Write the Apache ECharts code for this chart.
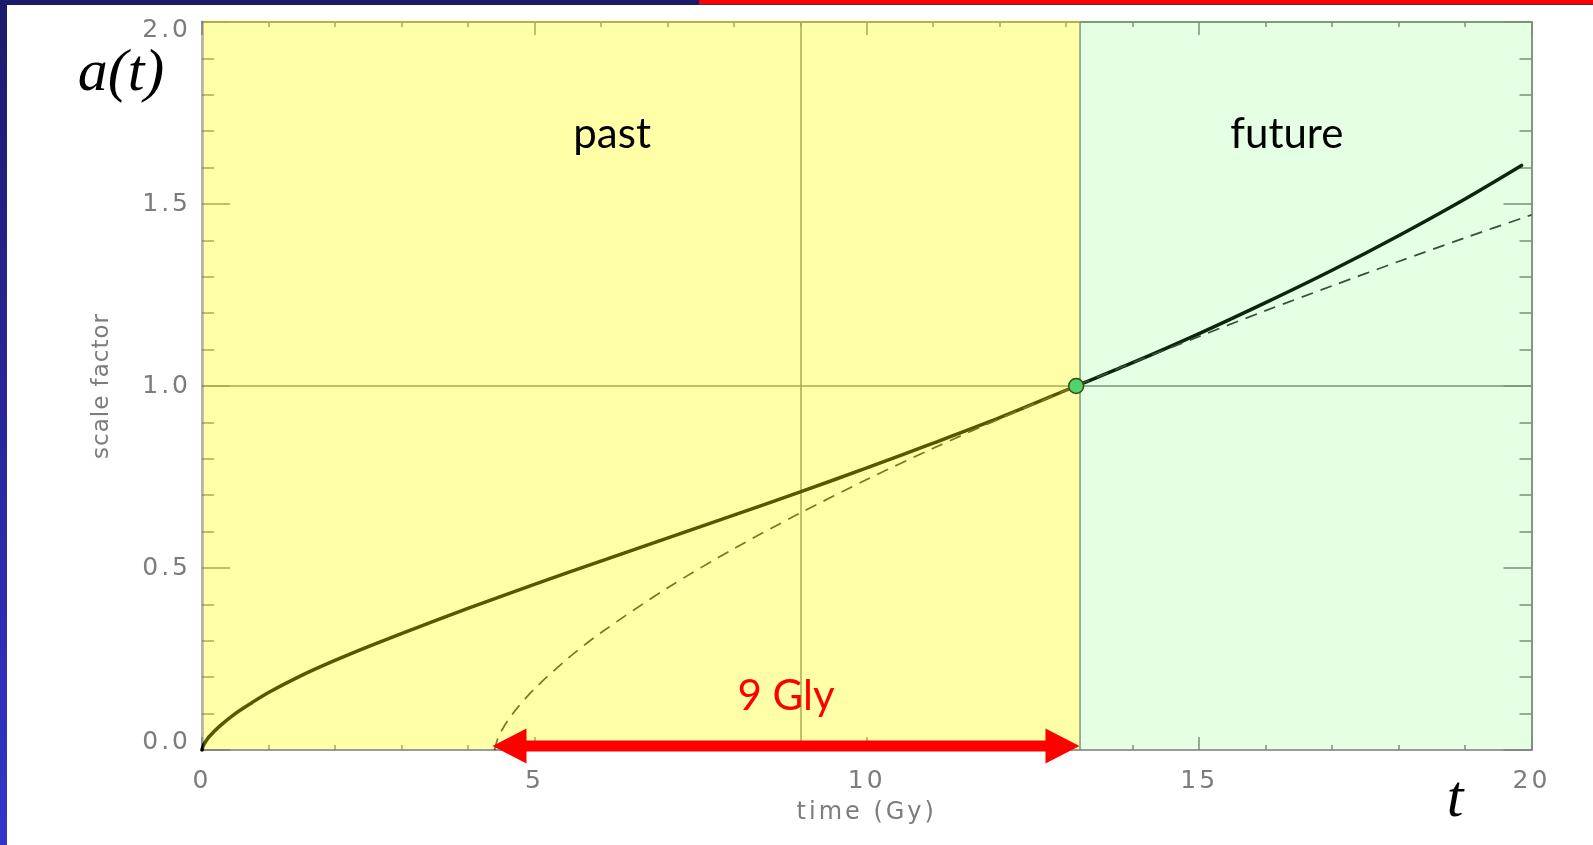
<!DOCTYPE html>
<html>
<head>
<meta charset="utf-8">
<script src="https://cdn.jsdelivr.net/npm/echarts@6/dist/echarts.min.js"></script>
<style>
  html, body { margin: 0; padding: 0; background: #ffffff; }
  #chart { width: 1593px; height: 845px; }
</style>
</head>
<body>
<div id="chart"></div>
<script>
// Scale factor a(t) of an accelerating (ΛCDM) universe, compared with a
// matter-only universe that has the same expansion rate today.

// Axis ticks
const timeTicks = [0, 5, 10, 15, 20];
const scaleTicks = [0.0, 0.5, 1.0, 1.5, 2.0];

// ΛCDM scale factor (solid curve)
const lcdmTime  = [0, 0.02, 0.05, 0.1, 0.25, 0.5, 0.75, 1, 1.5, 2, 2.5, 3, 4, 5, 6, 7, 8, 9, 10, 11, 12, 13.15, 14, 15, 16, 17, 18, 19, 19.85];
const lcdmScale = [0, 0.012, 0.022, 0.035, 0.063, 0.100, 0.130, 0.158, 0.205, 0.246, 0.284, 0.320, 0.389, 0.455, 0.519, 0.582, 0.645, 0.709, 0.775, 0.843, 0.913, 1.000, 1.064, 1.144, 1.229, 1.318, 1.413, 1.514, 1.606];

// Matter-only scale factor (dashed curve)
const matterTime  = [4.4, 4.45, 4.5, 4.6, 4.75, 5, 5.5, 6, 7, 8, 9, 10, 11, 12, 13.15, 14, 15, 16, 17, 18, 19, 20];
const matterScale = [0, 0.032, 0.051, 0.081, 0.117, 0.168, 0.251, 0.322, 0.445, 0.553, 0.651, 0.743, 0.829, 0.910, 1.000, 1.064, 1.136, 1.207, 1.275, 1.342, 1.407, 1.470];

// Today
const presentTime = 13.15;
const presentScale = 1.0;

// Past / future boundary
const eraBounds = [0, 13.2, 20];
const eraLabels = ['past', 'future'];

// Age of the matter-only universe (arrow)
const spanStart = 4.37;
const spanEnd = 13.2;

// Reference lines
const refTime = 9;
const refScale = 1.0;

const zip = (xs, ys) => xs.map((x, i) => [x, ys[i]]);
const tMin = timeTicks[0], tMax = timeTicks[timeTicks.length - 1], tStep = timeTicks[1] - timeTicks[0];
const aMin = scaleTicks[0], aMax = scaleTicks[scaleTicks.length - 1], aStep = scaleTicks[1] - scaleTicks[0];

// The plotter-style axis lettering is widely spaced: give DejaVu text
// some tracking when it is painted.
(function () {
  const proto = CanvasRenderingContext2D.prototype;
  if (!('letterSpacing' in proto)) return;
  const fill = proto.fillText;
  proto.fillText = function (text) {
    if (this.font.indexOf('DejaVu') >= 0) {
      this.letterSpacing = text === 'scale factor' ? '1px' : '3px';
    } else {
      this.letterSpacing = '0px';
    }
    return fill.apply(this, arguments);
  };
})();

const tickFont = 'DejaVu Sans';
const tickColor = '#7c7c7c';
const markGray = '#808080';
const eraFills = ['rgba(255,255,0,0.34)', 'rgba(75,255,75,0.15)'];

function timeAxis(pos) {
  const bottom = pos === 'bottom';
  return {
    type: 'value', position: pos, min: tMin, max: tMax, interval: tStep,
    axisLine: { show: true, onZero: false, lineStyle: { color: bottom ? '#9a9a9a' : '#8a8a8a', width: 2 } },
    axisTick: { show: true, inside: true, length: 13, lineStyle: { color: markGray, width: 1.5 } },
    minorTick: { show: true, splitNumber: 5, length: 5, lineStyle: { color: markGray, width: 1.5 } },
    splitLine: { show: false }, minorSplitLine: { show: false },
    axisLabel: {
      show: bottom, margin: 19, fontFamily: tickFont, fontSize: 25, color: tickColor,
      formatter: v => String(v)
    },
    name: bottom ? 'time (Gy)' : '', nameLocation: 'middle', nameGap: 51,
    nameTextStyle: { fontFamily: tickFont, fontSize: 24, color: tickColor }
  };
}

function scaleAxis(pos) {
  const left = pos === 'left';
  return {
    type: 'value', position: pos, min: aMin, max: aMax, interval: aStep,
    axisLine: { show: true, onZero: false, lineStyle: { color: left ? '#b4b4b4' : '#8a8a8a', width: left ? 3 : 2 } },
    axisTick: { show: true, inside: true, length: 28, lineStyle: { color: markGray, width: 1.5 } },
    minorTick: { show: true, splitNumber: 5, length: 12, lineStyle: { color: markGray, width: 1.5 } },
    splitLine: { show: false }, minorSplitLine: { show: false },
    axisLabel: {
      show: left, margin: 11, fontFamily: tickFont, fontSize: 25, color: tickColor, lineHeight: 16,
      verticalAlignMinLabel: 'bottom', verticalAlignMaxLabel: 'top',
      formatter: v => v.toFixed(1)
    },
    name: left ? 'scale factor' : '', nameLocation: 'middle', nameGap: 88, nameRotate: 90,
    nameTextStyle: { fontFamily: tickFont, fontSize: 23, color: tickColor }
  };
}

const chart = echarts.init(document.getElementById('chart'), null, { renderer: 'canvas' });

const option = {
  animation: false,
  backgroundColor: '#ffffff',
  grid: { left: 202, right: 61.5, top: 22, bottom: 95, containLabel: false },
  xAxis: [timeAxis('bottom'), timeAxis('top')],
  yAxis: [scaleAxis('left'), scaleAxis('right')],
  graphic: [
    { type: 'rect', shape: { x: 0, y: 0, width: 699, height: 5 }, style: { fill: '#1b1b6b' }, z: 100 },
    { type: 'rect', shape: { x: 699, y: 0, width: 894, height: 4 }, style: { fill: '#ff0000' }, z: 100 },
    { type: 'rect', shape: { x: 699, y: 4, width: 894, height: 1 }, style: { fill: '#70146a' }, z: 100 },
    {
      type: 'rect', shape: { x: 0, y: 0, width: 7, height: 845 }, z: 100,
      style: { fill: new echarts.graphic.LinearGradient(0, 0, 0, 1, [
        { offset: 0, color: '#1b1b6b' }, { offset: 1, color: '#3434cc' }
      ]) }
    },
    {
      type: 'text', x: 121, y: 74, z: 100,
      style: {
        text: 'a(t)', fontFamily: 'Liberation Serif', fontStyle: 'italic', fontSize: 60,
        fill: '#000000', align: 'center', verticalAlign: 'middle'
      }
    },
    {
      type: 'text', x: 1455, y: 800, z: 100,
      style: {
        text: 't', fontFamily: 'Liberation Serif', fontStyle: 'italic', fontSize: 60,
        fill: '#000000', align: 'center', verticalAlign: 'middle'
      }
    }
  ],
  series: [
    {
      name: 'ΛCDM', type: 'line', xAxisIndex: 0, yAxisIndex: 0, z: 2, silent: true,
      data: zip(lcdmTime, lcdmScale),
      showSymbol: false, smooth: 0.3,
      lineStyle: { color: '#000000', width: 3.5, cap: 'round' },
      markLine: {
        z: 1, silent: true, symbol: 'none', label: { show: false },
        lineStyle: { color: markGray, width: 1.5, type: 'solid' },
        emphasis: { disabled: true },
        data: [{ xAxis: refTime }, { yAxis: refScale }, { xAxis: eraBounds[1] }]
      }
    },
    {
      name: 'matter only', type: 'line', xAxisIndex: 0, yAxisIndex: 0, z: 2, silent: true,
      data: zip(matterTime, matterScale),
      showSymbol: false, smooth: 0.3,
      lineStyle: { color: '#333333', width: 1.7, type: [12, 8] }
    },
    {
      // translucent past / future shading laid over the plot
      name: 'eras', type: 'custom', xAxisIndex: 0, yAxisIndex: 0, z: 3, silent: true,
      data: eraBounds.slice(0, -1).map((b, i) => [b, eraBounds[i + 1]]),
      encode: { x: [0, 1] },
      renderItem: (params, api) => {
        const i = params.dataIndex;
        const p0 = api.coord([api.value(0), aMax]);
        const p1 = api.coord([api.value(1), aMin]);
        const x0 = p0[0] + (i === 0 ? 1.5 : 0);
        const x1 = p1[0] + (i === eraFills.length - 1 ? 1.5 : 0);
        const y0 = p0[1] - 1.5;
        const y1 = p1[1] - 1;
        return { type: 'rect', shape: { x: x0, y: y0, width: x1 - x0, height: y1 - y0 }, style: { fill: eraFills[i] } };
      }
    },
    {
      name: 'today', type: 'scatter', xAxisIndex: 0, yAxisIndex: 0, z: 4, silent: true,
      data: [[presentTime, presentScale]],
      symbol: 'circle', symbolSize: 15,
      itemStyle: { color: '#4ed36e', borderColor: '#3f4a00', borderWidth: 1.5, opacity: 1 }
    },
    {
      name: 'age span', type: 'custom', xAxisIndex: 0, yAxisIndex: 0, z: 5, silent: true,
      data: [[spanStart, spanEnd, 0.011]],
      encode: { x: [0, 1], y: 2 },
      renderItem: (params, api) => {
        const a = api.coord([api.value(0), api.value(2)]);
        const b = api.coord([api.value(1), api.value(2)]);
        const cy = a[1], hl = 34, hh = 17.5, sh = 5.5;
        const label = Math.round(api.value(1) - api.value(0)) + ' Gly';
        return {
          type: 'group',
          children: [
            {
              type: 'polygon',
              shape: { points: [
                [a[0], cy], [a[0] + hl, cy - hh], [a[0] + hl, cy - sh], [b[0] - hl, cy - sh],
                [b[0] - hl, cy - hh], [b[0], cy], [b[0] - hl, cy + hh], [b[0] - hl, cy + sh],
                [a[0] + hl, cy + sh], [a[0] + hl, cy + hh]
              ] },
              style: { fill: '#ff0000' }
            },
            {
              type: 'text',
              style: {
                text: label, x: (a[0] + b[0]) / 2, y: cy - 50,
                fontFamily: 'Lato', fontSize: 42, fill: '#ff0000',
                align: 'center', verticalAlign: 'middle',
                textAlign: 'center', textVerticalAlign: 'middle'
              }
            }
          ]
        };
      }
    },
    {
      name: 'era labels', type: 'custom', xAxisIndex: 0, yAxisIndex: 0, z: 5, silent: true,
      data: [[6.17, 1.69], [16.32, 1.69]],
      encode: { x: 0, y: 1 },
      renderItem: (params, api) => {
        const p = api.coord([api.value(0), api.value(1)]);
        return {
          type: 'text',
          style: {
            text: eraLabels[params.dataIndex], x: p[0], y: p[1],
            fontFamily: 'Lato', fontSize: 42, fill: '#000000',
            align: 'center', verticalAlign: 'middle',
            textAlign: 'center', textVerticalAlign: 'middle'
          }
        };
      }
    }
  ]
};

chart.setOption(option);
</script>
</body>
</html>
